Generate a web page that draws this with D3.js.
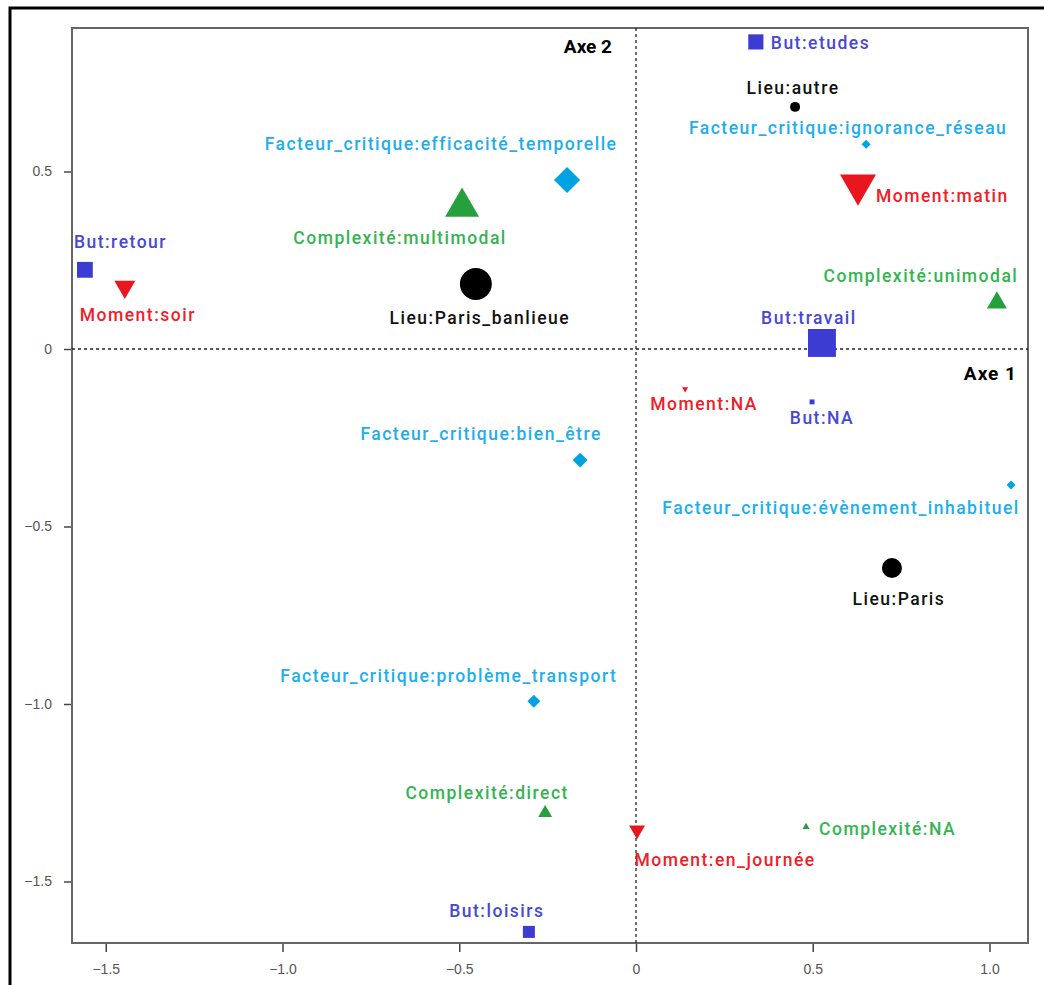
<!DOCTYPE html>
<html>
<head>
<meta charset="utf-8">
<script src="https://cdn.jsdelivr.net/npm/d3@7"></script>
<style>
  body { margin: 0; background: #fff; }
  svg { display: block; }
</style>
</head>
<body>
<div id="chart_div"></div>
<script>
// data (coordinates on Axe 1 / Axe 2, contribution drives marker size)
var names = [
  "Lieu:Paris_banlieue", "Lieu:autre", "Lieu:Paris",
  "But:etudes", "But:retour", "But:travail", "But:NA", "But:loisirs",
  "Moment:matin", "Moment:soir", "Moment:NA", "Moment:en_journée",
  "Complexité:multimodal", "Complexité:unimodal", "Complexité:direct", "Complexité:NA",
  "Facteur_critique:efficacité_temporelle", "Facteur_critique:ignorance_réseau",
  "Facteur_critique:bien_être", "Facteur_critique:évènement_inhabituel",
  "Facteur_critique:problème_transport"
];
var axe1 = [-0.453, 0.450, 0.724,
  0.339, -1.559, 0.526, 0.498, -0.303,
  0.628, -1.446, 0.139, 0.003,
  -0.492, 1.021, -0.257, 0.481,
  -0.195, 0.651, -0.158, 1.061, -0.289];
var axe2 = [0.183, 0.682, -0.617,
  0.865, 0.223, 0.017, -0.149, -1.642,
  0.462, 0.175, -0.113, -1.355,
  0.400, 0.130, -1.307, -1.346,
  0.476, 0.577, -0.313, -0.383, -0.992];
var contrib = [40, 3.9, 15.7,
  11.5, 12.5, 39, 1.2, 7.2,
  28, 9.5, 0.8, 5.5,
  25, 8.6, 4.2, 1.1,
  17, 2, 5.6, 2, 4.2];
var xTicks = [-1.5, -1.0, -0.5, 0, 0.5, 1.0];
var yTicks = [0.5, 0, -0.5, -1.0, -1.5];

// label placement (pixels from the marker)
var labelPos = {
  "Lieu:Paris_banlieue": [4, 40, "middle"],
  "Lieu:autre": [-2, -13, "middle"],
  "Lieu:Paris": [7, 37, "middle"],
  "But:etudes": [15, 7, "start"],
  "But:retour": [-11, -22, "start"],
  "But:travail": [-13, -19, "middle"],
  "But:NA": [10, 22, "middle"],
  "But:loisirs": [-32, -15, "middle"],
  "Moment:matin": [18, 17, "start"],
  "Moment:soir": [13, 34, "middle"],
  "Moment:NA": [19, 21, "middle"],
  "Moment:en_journée": [88, 36, "middle"],
  "Complexité:multimodal": [-62, 37, "middle"],
  "Complexité:unimodal": [-76, -21, "middle"],
  "Complexité:direct": [-58, -14, "middle"],
  "Complexité:NA": [13, 8, "start"],
  "Facteur_critique:efficacité_temporelle": [-126, -30, "middle"],
  "Facteur_critique:ignorance_réseau": [-18, -10, "middle"],
  "Facteur_critique:bien_être": [-99, -20, "middle"],
  "Facteur_critique:évènement_inhabituel": [-170, 29, "middle"],
  "Facteur_critique:problème_transport": [-85, -19, "middle"]
};

var styles = {
  "Lieu": { mark: "#000000", text: "#111111", shape: "circle" },
  "But": { mark: "#3c3cd2", text: "#4848d4", shape: "square" },
  "Moment": { mark: "#e8161f", text: "#ee2029", shape: "down" },
  "Complexité": { mark: "#25a03c", text: "#35b452", shape: "up" },
  "Facteur_critique": { mark: "#00a3e2", text: "#22aeea", shape: "diamond" }
};

var points = names.map(function(n, i) {
  return { name: n, group: n.split(":")[0], x: axe1[i], y: axe2[i], c: contrib[i] };
});

var W = 1044, H = 985;
var panel = { left: 72, right: 1028, top: 28, bottom: 943 };

var svg = d3.select("#chart_div").append("svg")
  .attr("width", W).attr("height", H);

// outer frame
svg.append("path")
  .attr("d", "M10,986 L10,8 L1046,8")
  .attr("fill", "none").attr("stroke", "#000").attr("stroke-width", 3);

var x = d3.scaleLinear().domain([-1.5, 1.0]).range([636 - 1.5 * 353.5, 636 + 1.0 * 353.5]);
var y = d3.scaleLinear().domain([-1.5, 0.5]).range([349 + 1.5 * 355, 349 - 0.5 * 355]);
var area = d3.scaleLinear().domain([0, 40]).range([0, 800]);

// axes
var xAxis = svg.append("g")
  .attr("transform", "translate(0," + panel.bottom + ")")
  .call(d3.axisBottom(x).tickValues(xTicks).tickSize(9).tickSizeOuter(0)
    .tickFormat(function(d) { return d === 0 ? "0" : d3.format(".1f")(d); }));
var yAxis = svg.append("g")
  .attr("transform", "translate(" + panel.left + ",0)")
  .call(d3.axisLeft(y).tickValues(yTicks).tickSize(8).tickSizeOuter(0)
    .tickFormat(function(d) { return d === 0 ? "0" : d3.format(".1f")(d); }));
[xAxis, yAxis].forEach(function(a) {
  a.select(".domain").remove();
  a.selectAll("line").attr("stroke", "#444").attr("stroke-width", 1.5);
  a.selectAll("text")
    .attr("fill", "#555")
    .style("font-family", "'Liberation Sans', Arial, sans-serif")
    .style("font-size", "14px");
});
xAxis.selectAll("text").attr("dy", "1.35em");
yAxis.selectAll("text").attr("x", -20);

// panel border
svg.append("rect")
  .attr("x", panel.left).attr("y", panel.top)
  .attr("width", panel.right - panel.left).attr("height", panel.bottom - panel.top)
  .attr("fill", "none").attr("stroke", "#666").attr("stroke-width", 2);

// dashed reference lines
svg.append("line")
  .attr("x1", x(0)).attr("x2", x(0)).attr("y1", panel.top).attr("y2", panel.bottom)
  .attr("stroke", "#222").attr("stroke-width", 1.3).attr("stroke-dasharray", "3,3");
svg.append("line")
  .attr("x1", panel.left).attr("x2", panel.right).attr("y1", y(0)).attr("y2", y(0))
  .attr("stroke", "#222").attr("stroke-width", 1.3).attr("stroke-dasharray", "3,3");

var axisFont = "Roboto, 'Liberation Sans', sans-serif";
svg.append("text").text("Axe 2")
  .attr("x", x(0) - 24).attr("y", panel.top + 25)
  .attr("text-anchor", "end")
  .style("font-family", axisFont).style("font-weight", "bold").style("font-size", "19px");
svg.append("text").text("Axe 1")
  .attr("x", panel.right - 11).attr("y", y(0) + 31)
  .attr("text-anchor", "end")
  .style("font-family", axisFont).style("font-weight", "bold").style("font-size", "19px")
  .style("letter-spacing", "1px");

// markers
function shapePath(d) {
  var s = styles[d.group].shape;
  var a = area(d.c);
  if (s === "circle") return d3.symbol().type(d3.symbolCircle).size(a)();
  if (s === "up" || s === "down") return d3.symbol().type(d3.symbolTriangle).size(a)();
  return d3.symbol().type(d3.symbolSquare).size(a)();
}
svg.append("g").selectAll("path")
  .data(points)
  .enter()
  .append("path")
  .attr("d", shapePath)
  .attr("transform", function(d) {
    var s = styles[d.group].shape;
    var rot = s === "down" ? 180 : (s === "diamond" ? 45 : 0);
    return "translate(" + x(d.x) + "," + y(d.y) + ") rotate(" + rot + ")";
  })
  .attr("fill", function(d) { return styles[d.group].mark; });

// labels
svg.append("g").selectAll("text")
  .data(points)
  .enter()
  .append("text")
  .text(function(d) { return d.name; })
  .attr("x", function(d) { return x(d.x) + labelPos[d.name][0]; })
  .attr("y", function(d) { return y(d.y) + labelPos[d.name][1]; })
  .attr("text-anchor", function(d) { return labelPos[d.name][2]; })
  .attr("fill", function(d) { return styles[d.group].text; })
  .style("font-family", axisFont)
  .style("font-weight", "500")
  .style("font-size", "17.5px")
  .style("letter-spacing", "1.5px");
</script>
</body>
</html>
